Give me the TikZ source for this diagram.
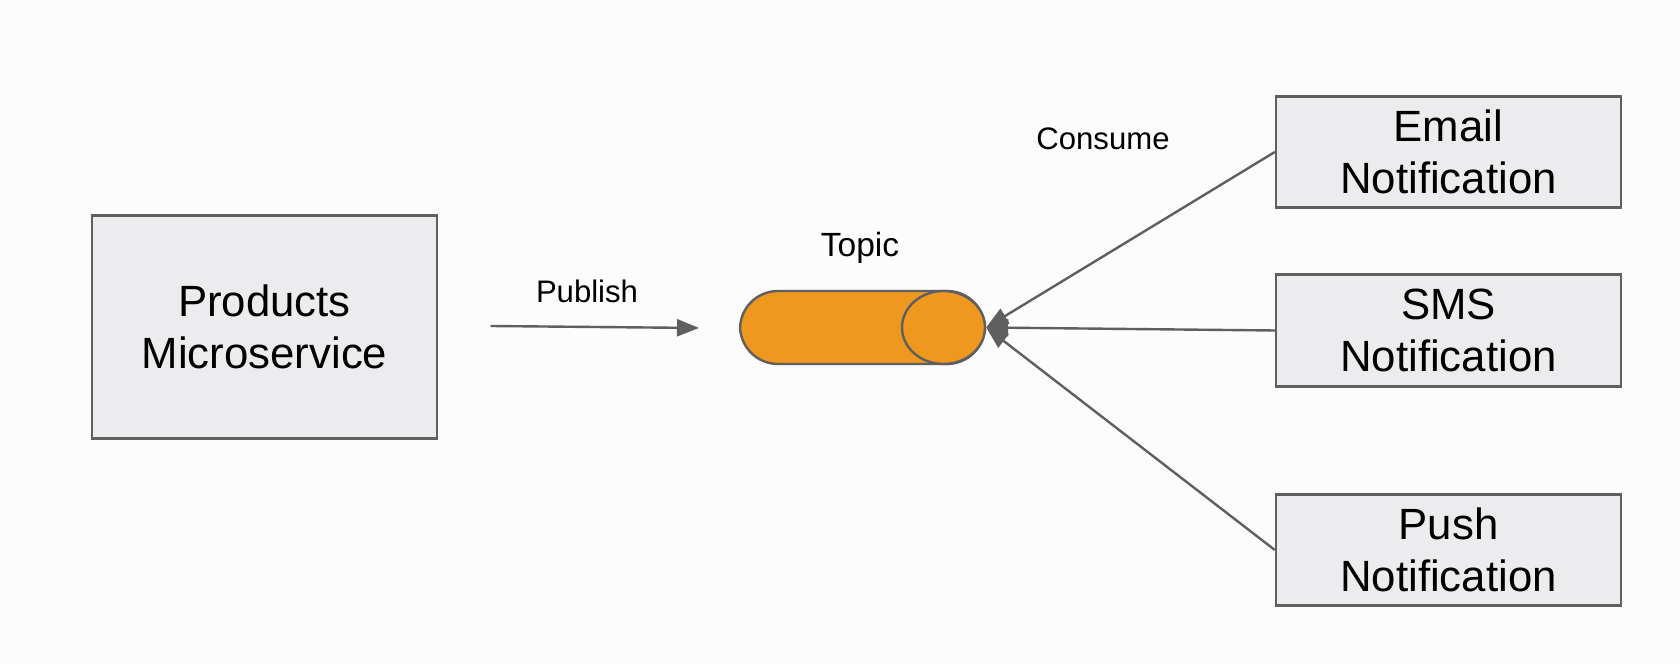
\documentclass[tikz,border=0pt]{standalone}
\usepackage{fontspec}
\setmainfont{Liberation Sans}
\usetikzlibrary{arrows.meta,shapes.geometric}
\definecolor{boxfill}{HTML}{ECEBEE}
\definecolor{linegray}{HTML}{5F5F5F}
\definecolor{topicfill}{HTML}{EF981F}
\begin{document}
\begin{tikzpicture}[line width=.024cm, box node/.style={rectangle,draw=linegray,fill=boxfill,inner sep=0pt,align=center,font=\fontsize{12.45}{14.6}\selectfont,execute at begin node={\rule{0pt}{11pt}}},label node/.style={inner sep=0pt,font=\fontsize{8.85}{10}\selectfont},topic part/.style={draw=linegray,fill=topicfill,inner sep=0pt},conn/.style={draw=linegray,-{Triangle[length=.22cm,width=.17cm,fill=linegray]}}]
\useasboundingbox[fill=black!1] (0,0) rectangle (16.8,6.64);
\begin{scope}
\node[box node,minimum width=3.45cm,minimum height=2.23cm] (products) at (2.645,3.37) {Products\\Microservice};
\node[box node,minimum width=3.45cm,minimum height=1.11cm] (email) at (14.485,5.12) {Email\\Notification};
\node[box node,minimum width=3.45cm,minimum height=1.12cm] (sms) at (14.485,3.335) {SMS\\Notification};
\node[box node,minimum width=3.45cm,minimum height=1.11cm] (push) at (14.485,1.14) {Push\\Notification};
\node[topic part,rectangle,rounded corners=.38cm,minimum width=2.45cm,minimum height=.73cm] (cyl) at (8.625,3.365) {};
\node[topic part,ellipse,minimum width=.83cm,minimum height=.73cm] (cap) at (9.435,3.365) {};
%\node[box node] (v) at (,) {};
\end{scope}
\begin{scope}
\node[label node] (publish) at (5.87,3.73) {Publish};
\node[label node] (consume) at (11.03,5.25) {Consume};
\node[label node,font=\fontsize{9.55}{11}\selectfont] (topic) at (8.6,4.16) {Topic};
\coordinate (pubstart) at (4.905,3.38);
\coordinate (pubend) at (6.99,3.36);
\end{scope}
\begin{scope}
\draw (pubstart) edge[conn] (pubend);
\draw (email.west) edge[conn] (cap.east);
\draw (sms.west) edge[conn] (cap.east);
\draw (push.west) edge[conn] (cap.east);
\end{scope}
\end{tikzpicture}
\end{document}
